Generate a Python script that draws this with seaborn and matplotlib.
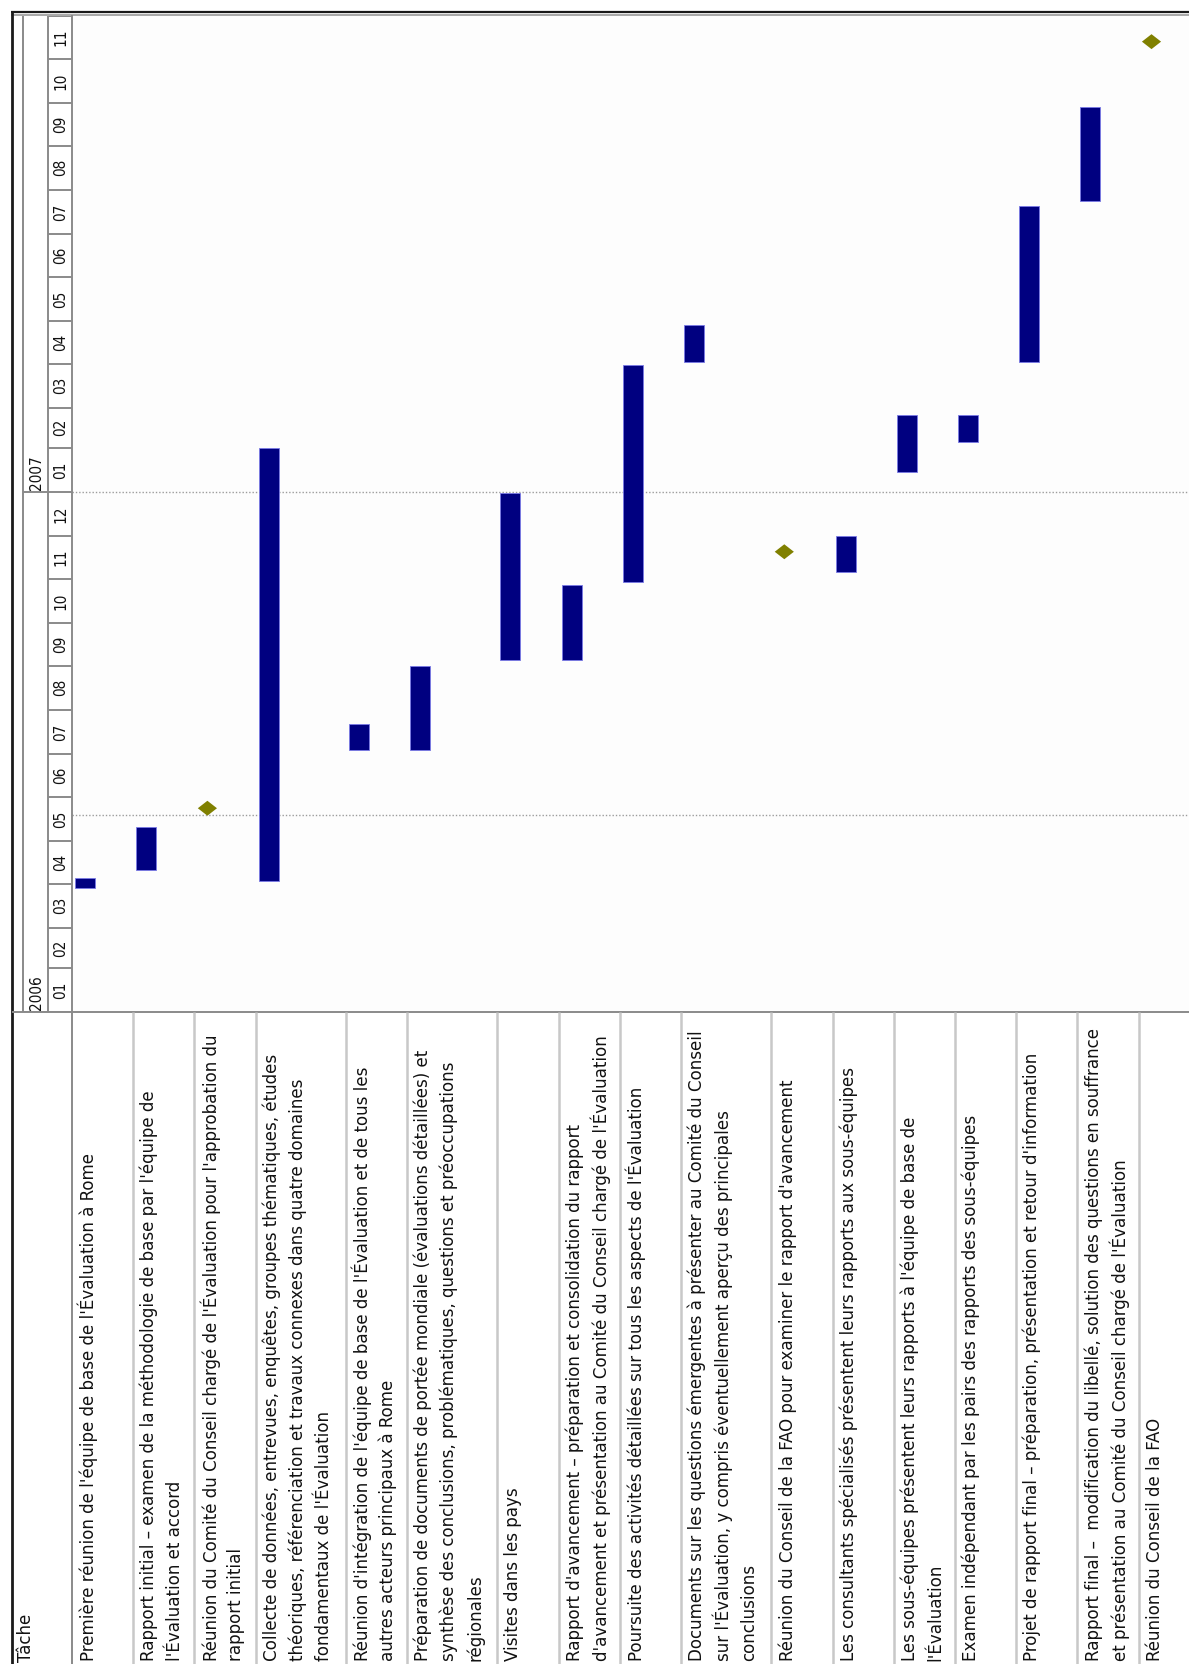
import numpy as np
import pandas as pd
import matplotlib
matplotlib.use("Agg")
import matplotlib.pyplot as plt
import seaborn as sns
from matplotlib import font_manager

# ---------------------------------------------------------------------------
# Calendrier de l'évaluation (tâches, début, fin)
# ---------------------------------------------------------------------------
tasks = [
    "Première réunion de l'équipe de base de l'Évaluation à Rome",
    "Rapport initial – examen de la méthodologie de base par l'équipe de\nl'Évaluation et accord",
    "Réunion du Comité du Conseil chargé de l'Évaluation pour l'approbation du\nrapport initial",
    "Collecte de données, entrevues, enquêtes, groupes thématiques, études\nthéoriques, référenciation et travaux connexes dans quatre domaines\nfondamentaux de l'Évaluation",
    "Réunion d'intégration de l'équipe de base de l'Évaluation et de tous les\nautres acteurs principaux à Rome",
    "Préparation de documents de portée mondiale (évaluations détaillées) et\nsynthèse des conclusions, problématiques, questions et préoccupations\nrégionales",
    "Visites dans les pays",
    "Rapport d'avancement – préparation et consolidation du rapport\nd'avancement et présentation au Comité du Conseil chargé de l'Évaluation",
    "Poursuite des activités détaillées sur tous les aspects de l'Évaluation",
    "Documents sur les questions émergentes à présenter au Comité du Conseil\nsur l'Évaluation, y compris éventuellement aperçu des principales\nconclusions",
    "Réunion du Conseil de la FAO pour examiner le rapport d'avancement",
    "Les consultants spécialisés présentent leurs rapports aux sous-équipes",
    "Les sous-équipes présentent leurs rapports à l'équipe de base de\nl'Évaluation",
    "Examen indépendant par les pairs des rapports des sous-équipes",
    "Projet de rapport final – préparation, présentation et retour d'information",
    "Rapport final –  modification du libellé, solution des questions en souffrance\net présentation au Comité du Conseil chargé de l'Évaluation",
    "Réunion du Conseil de la FAO",
]
start_dates = [
    "2006-03-29", "2006-04-11", "2006-05-24", "2006-04-03", "2006-07-04",
    "2006-07-04", "2006-09-05", "2006-09-05", "2006-10-30", "2007-04-02",
    "2006-11-20", "2006-11-06", "2007-01-15", "2007-02-05", "2007-04-02",
    "2007-07-24", "2007-11-13",
]
finish_dates = [
    "2006-04-05", "2006-05-11", "2006-05-24", "2007-02-01", "2006-07-22",
    "2006-09-01", "2006-12-31", "2006-10-28", "2007-03-31", "2007-04-28",
    "2006-11-20", "2006-12-01", "2007-02-24", "2007-02-24", "2007-07-21",
    "2007-09-28", "2007-11-13",
]
is_milestone = [False, False, True, False, False, False, False, False, False,
                False, True, False, False, False, False, False, True]
month_labels = ["01", "02", "03", "04", "05", "06", "07", "08", "09", "10", "11", "12",
                "01", "02", "03", "04", "05", "06", "07", "08", "09", "10", "11"]
year_labels = ["2006", "2007"]
marker_dates = ["2006-05-19", "2007-01-01"]
header_label = "Tâche"

# ---------------------------------------------------------------------------
sns.set_theme(style="white")

# pick a narrow sans face when one is installed
entries = font_manager.fontManager.ttflist
names = {f.name for f in entries}
face, stretch, body_size = "Liberation Sans", "normal", 13.6
if "Liberation Sans Narrow" in names:
    face, stretch, body_size = "Liberation Sans Narrow", "normal", 16
else:
    for fam in ("Liberation Sans", "DejaVu Sans", "Roboto", "Open Sans", "Noto Sans"):
        cond = [f for f in entries if f.name == fam and str(f.stretch) in
                ("condensed", "semi-condensed", "75", "87")
                and f.style == "normal" and f.weight in (400, "normal", "regular")]
        if cond:
            face, stretch, body_size = fam, cond[0].stretch, 13.3
            break
plt.rcParams["font.family"] = [face, "DejaVu Sans"]
plt.rcParams["font.stretch"] = stretch

W, H = 1189, 1664
fig = plt.figure(figsize=(W / 100, H / 100), dpi=100)
fig.patch.set_facecolor("white")

origin = pd.Timestamp("2006-01-01")
horizon = pd.Timestamp("2007-12-01")
total_days = (horizon - origin).days


def to_days(d):
    return (pd.Timestamp(d) - origin).days


# layout of the sheet, in pixels
tl_left, tl_top, tl_bottom = 72, 16, 1012
row_h = [90.3 if t.count("\n") >= 2 else 61.2 for t in tasks]
row_start = 72 + np.concatenate([[0], np.cumsum(row_h)[:-1]])
mark_x = row_start - tl_left + 13

# ---------------------------------------------------------------------------
# Gantt area (time runs upward)
# ---------------------------------------------------------------------------
ax = fig.add_axes([tl_left / W, 1 - tl_bottom / H, (W - tl_left) / W, (tl_bottom - tl_top) / H])

sched = pd.DataFrame({
    "task": tasks,
    "x": mark_x,
    "start": [to_days(d) for d in start_dates],
    "finish": [to_days(d) for d in finish_dates],
    "milestone": is_milestone,
})
sched["duration"] = sched["finish"] - sched["start"]
bars = sched[~sched["milestone"]].sort_values("x").reset_index(drop=True)
miles = sched[sched["milestone"]].reset_index(drop=True)

gap = np.min(np.diff(bars["x"].to_numpy()))
sns.barplot(data=bars, x="x", y="duration", native_scale=True, orient="x",
            width=20 / gap, color="#000080", saturation=1, errorbar=None,
            bottom=bars["start"].to_numpy(), edgecolor="#7a7ae6", linewidth=0.6,
            ax=ax, zorder=3)

diamond = [(-1.0, 0.0), (0.0, 0.78), (1.0, 0.0), (0.0, -0.78), (-1.0, 0.0)]
sns.scatterplot(data=miles, x="x", y="finish", marker=diamond, s=190,
                color="#808000", edgecolor="none", ax=ax, zorder=4, legend=False)

for d in marker_dates:
    ax.axhline(to_days(d), color="#9c9c9c", lw=1.0, ls=(0, (1, 1.4)), zorder=1)

ax.set_xlim(0, W - tl_left)
ax.set_ylim(0, total_days)
ax.set_xlabel("")
ax.set_ylabel("")
ax.set_xticks([])
ax.set_yticks([])
for s in ax.spines.values():
    s.set_visible(False)
ax.set_facecolor("#fdfdfd")

# ---------------------------------------------------------------------------
# Timescale header (years and months)
# ---------------------------------------------------------------------------
hdr = fig.add_axes([12 / W, 1 - tl_bottom / H, 60 / W, (tl_bottom - tl_top) / H])
hdr.set_xlim(12, 72)
hdr.set_ylim(0, total_days)
hdr.axis("off")
grid_c = "#8a8a8a"
month_starts = pd.date_range(origin, horizon, freq="MS")
for m in month_starts:
    hdr.plot([48, 72], [to_days(m)] * 2, color=grid_c, lw=1.4, solid_capstyle="butt")
for m0, m1, lab in zip(month_starts[:-1], month_starts[1:], month_labels):
    mid = (to_days(m0) + to_days(m1)) / 2
    hdr.text(61, mid, lab, rotation=90, ha="center", va="center", fontsize=11, color="#111111")
for lab in year_labels:
    y0 = to_days(pd.Timestamp(f"{lab}-01-01"))
    hdr.plot([23, 48], [y0, y0], color=grid_c, lw=1.4, solid_capstyle="butt")
    hdr.text(36, y0 + 1.5, lab, rotation=90, ha="center", va="bottom", fontsize=11, color="#111111")
for xv in (23, 48):
    hdr.plot([xv, xv], [0, total_days], color=grid_c, lw=1.4, solid_capstyle="butt")

# ---------------------------------------------------------------------------
# Frame and task table
# ---------------------------------------------------------------------------
ov = fig.add_axes([0, 0, 1, 1])
ov.set_xlim(0, W)
ov.set_ylim(H, 0)
ov.axis("off")
ov.patch.set_alpha(0)

ov.plot([11, W], [12, 12], color="#1a1a1a", lw=1.6, solid_capstyle="butt")
ov.plot([11, W], [14.6, 14.6], color="#9a9a9a", lw=1.2, solid_capstyle="butt")
ov.plot([12, 12], [12, H], color="#1a1a1a", lw=2.0, solid_capstyle="butt")
ov.plot([72, 72], [15, H], color=grid_c, lw=1.4, solid_capstyle="butt")
ov.plot([12, W], [tl_bottom, tl_bottom], color=grid_c, lw=1.4, solid_capstyle="butt")
for xs in row_start[1:]:
    ov.plot([xs, xs], [tl_bottom, H], color="#c8c8c8", lw=1.8, solid_capstyle="butt")

ov.text(26, H - 2, header_label, rotation=90, ha="center", va="bottom",
        fontsize=body_size, color="#111111")
for x0, txt in zip(row_start, tasks):
    for i, line in enumerate(txt.split("\n")):
        ov.text(x0 + 16 + 26 * i, H - 3, line, rotation=90, ha="center", va="bottom",
                fontsize=body_size, color="#111111")

fig.savefig("out.png", dpi=100, facecolor="white")
